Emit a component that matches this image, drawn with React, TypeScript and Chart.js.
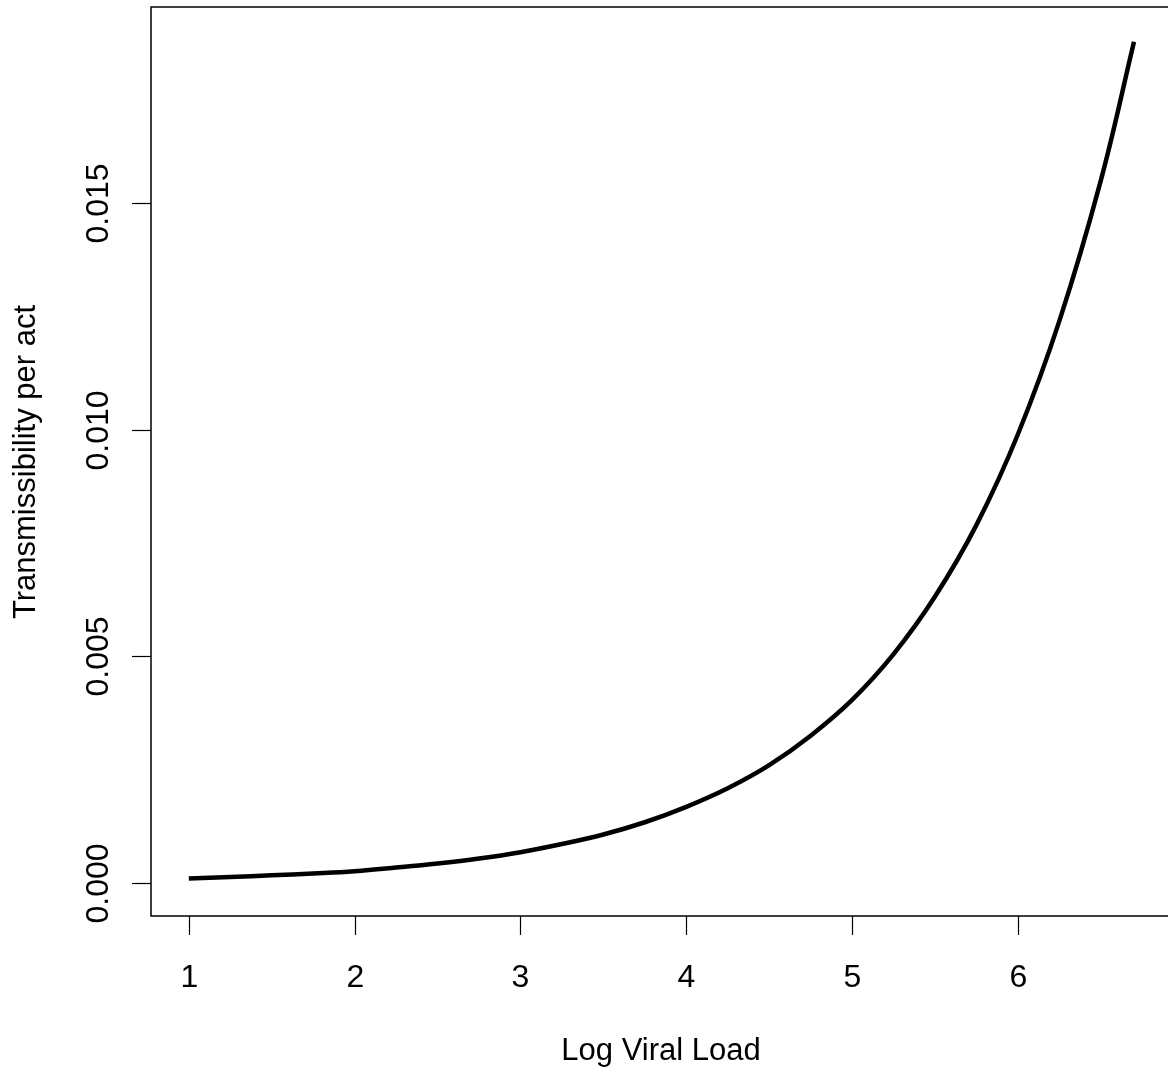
import React, { useEffect, useRef } from "react";
import Chart from "chart.js/auto";

const logViralLoad = [1.0, 1.25, 1.5, 1.75, 2.0, 2.25, 2.5, 2.75, 3.0, 3.25, 3.5, 3.75, 4.0, 4.25, 4.5, 4.75, 5.0, 5.25, 5.5, 5.75, 6.0, 6.25, 6.5, 6.7];
const transmissibility = [0.0001, 0.00013, 0.00017, 0.00021, 0.00026, 0.00034, 0.00043, 0.00054, 0.00068, 0.00086, 0.00107, 0.00134, 0.00168, 0.00209, 0.0026, 0.00325, 0.00404, 0.00505, 0.00632, 0.0079, 0.0099, 0.0124, 0.0155, 0.01856];
const xTickValues = [1, 2, 3, 4, 5, 6];
const xTickLabels = ["1", "2", "3", "4", "5", "6"];
const yTickValues = [0, 0.005, 0.01, 0.015];
const yTickLabels = ["0.000", "0.005", "0.010", "0.015"];
const xTitle = "Log Viral Load";
const yTitle = "Transmissibility per act";

const W = 1168;
const H = 1074;
const FONT = '"Liberation Sans", Arial, sans-serif';

export default function App() {
  const ref = useRef<HTMLCanvasElement>(null);
  useEffect(() => {
    document.body.style.margin = "0";
    const canvas = ref.current!;
    const axesPlugin = {
      id: "rAxes",
      afterDraw(chart: any) {
        const ctx = chart.ctx;
        const { left, top, right, bottom } = chart.chartArea;
        const xs = chart.scales.x;
        const ys = chart.scales.y;
        ctx.save();
        ctx.strokeStyle = "#000";
        ctx.lineWidth = 1.5;
        ctx.beginPath();
        ctx.moveTo(right + 10, top);
        ctx.lineTo(left, top);
        ctx.lineTo(left, bottom);
        ctx.lineTo(right + 10, bottom);
        ctx.stroke();
        ctx.lineWidth = 1.2;
        ctx.fillStyle = "#000";
        ctx.font = `32px ${FONT}`;
        ctx.textAlign = "center";
        ctx.textBaseline = "middle";
        xTickValues.forEach((v, i) => {
          const px = Math.round(xs.getPixelForValue(v)) + 0.5;
          ctx.beginPath();
          ctx.moveTo(px, bottom);
          ctx.lineTo(px, bottom + 19);
          ctx.stroke();
          ctx.fillText(xTickLabels[i], px, 978);
        });
        yTickValues.forEach((v, i) => {
          const py = Math.round(ys.getPixelForValue(v)) + 0.5;
          ctx.beginPath();
          ctx.moveTo(left, py);
          ctx.lineTo(left - 19, py);
          ctx.stroke();
          ctx.save();
          ctx.translate(99, py);
          ctx.rotate(-Math.PI / 2);
          ctx.fillText(yTickLabels[i], 0, 0);
          ctx.restore();
        });
        ctx.font = `31px ${FONT}`;
        ctx.fillText(xTitle, 661, 1051);
        ctx.save();
        ctx.translate(26, 462);
        ctx.rotate(-Math.PI / 2);
        ctx.fillText(yTitle, 0, 0);
        ctx.restore();
        ctx.restore();
      },
    };
    const chart = new Chart(canvas, {
      type: "scatter",
      data: {
        datasets: [
          {
            data: logViralLoad.map((x, i) => ({ x, y: transmissibility[i] })),
            showLine: true,
            borderColor: "#000",
            borderWidth: 4.5,
            pointRadius: 0,
            tension: 0.4,
            fill: false,
          },
        ],
      },
      options: {
        responsive: false,
        animation: false,
        layout: { padding: { left: 151, top: 7, right: 0, bottom: 158 } },
        plugins: { legend: { display: false }, tooltip: { enabled: false } },
        scales: {
          x: { type: "linear", display: false, min: 0.772, max: 6.905 },
          y: { type: "linear", display: false, min: -0.000728, max: 0.019325 },
        },
      },
      plugins: [axesPlugin],
    });
    return () => chart.destroy();
  }, []);
  return (
    <div style={{ width: W, height: H, background: "#fff" }}>
      <canvas ref={ref} width={W} height={H} style={{ display: "block" }} />
    </div>
  );
}
